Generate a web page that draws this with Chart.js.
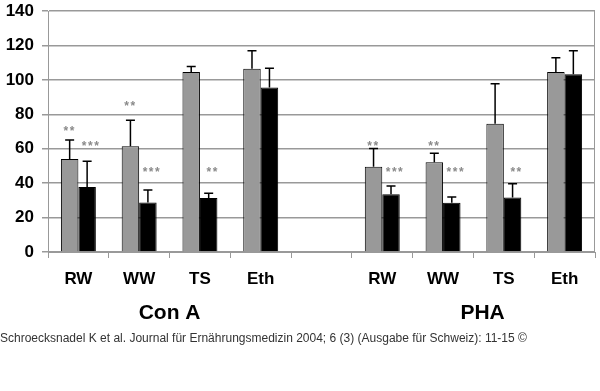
<!DOCTYPE html>
<html>
<head>
<meta charset="utf-8">
<script src="https://cdn.jsdelivr.net/npm/chart.js@4"></script>
<style>
  body { margin: 0; background: #fff; }
  #wrap { position: relative; width: 600px; height: 391px; }
  #caption {
    position: absolute; left: 0; top: 331px;
    font: 12px/14px "Liberation Sans", Arial, sans-serif; color: #333;
    white-space: nowrap;
  }
</style>
</head>
<body>
<div id="wrap">
  <canvas id="myChart" width="600" height="391"></canvas>
  <div id="caption">Schroecksnadel K et al. Journal für Ernährungsmedizin 2004; 6 (3) (Ausgabe für Schweiz): 11-15 ©</div>
</div>
<script>
// categories (index 4 is the empty gap between the two groups)
let labels = ['RW', 'WW', 'TS', 'Eth', '', 'RW', 'WW', 'TS', 'Eth']
// group names, centred on a category index
let groups = [{ name: 'Con A', at: 1.5 }, { name: 'PHA', at: 6.65 }]

// bar heights
let grayValues = [54, 61.5, 104.5, 106.4, null, 49.5, 52.2, 74.5, 104.6]
let blackValues = [37.8, 28.8, 31.4, 95.5, null, 33.6, 28.6, 31.7, 103.2]

// top of the (upper only) error bars
let grayErrTop = [65, 76.6, 107.7, 116.9, null, 60.1, 57.4, 97.8, 112.9]
let blackErrTop = [52.7, 36, 34.1, 106.8, null, 38.3, 31.9, 39.6, 116.9]

// significance marks: [category index, dataset index, text, y value]
let marks = [
    [0, 0, '**', 71.5], [0, 1, '***', 62.8],
    [1, 0, '**', 86], [1, 1, '***', 47.7],
    [2, 1, '**', 47.7],
    [5, 0, '**', 62.8], [5, 1, '***', 47.7],
    [6, 0, '**', 62.8], [6, 1, '***', 47.7],
    [7, 1, '**', 47.7]
]

const errTops = [grayErrTop, blackErrTop]

const extras = {
    id: 'extras',
    afterDatasetsDraw(chart) {
        const c = chart.ctx
        const y = chart.scales.y
        const x = chart.scales.x
        const area = chart.chartArea

        // error bars
        c.save()
        c.strokeStyle = '#000'
        c.lineWidth = 1.5
        chart.data.datasets.forEach((ds, di) => {
            const meta = chart.getDatasetMeta(di)
            meta.data.forEach((el, i) => {
                const top = errTops[di][i]
                if (top == null) return
                const yt = y.getPixelForValue(top)
                c.beginPath()
                c.moveTo(el.x, el.y)
                c.lineTo(el.x, yt)
                c.moveTo(el.x - 4.5, yt)
                c.lineTo(el.x + 4.5, yt)
                c.stroke()
            })
        })

        // asterisks
        c.fillStyle = '#8a8a8a'
        c.font = 'bold 12px "Liberation Sans", Arial, sans-serif'
        c.letterSpacing = '1.5px'
        c.textAlign = 'center'
        c.textBaseline = 'middle'
        marks.forEach(m => {
            const el = chart.getDatasetMeta(m[1]).data[m[0]]
            c.fillText(m[2], el.x + (m[1] == 1 ? 4 : 0), y.getPixelForValue(m[3]) + 3)
        })
        c.letterSpacing = '0px'

        // right border of the plot
        c.strokeStyle = '#999'
        c.lineWidth = 1
        c.beginPath()
        c.moveTo(area.right - 0.5, area.top)
        c.lineTo(area.right - 0.5, area.bottom)
        c.stroke()

        // group labels
        c.fillStyle = '#000'
        c.font = 'bold 21px "Liberation Sans", Arial, sans-serif'
        groups.forEach(g => {
            c.fillText(g.name, x.getPixelForValue(g.at), 313)
        })
        c.restore()
    }
}

let ctx = document.getElementById('myChart').getContext('2d')

let chart = new Chart(ctx, {
    type: 'bar',
    data: {
        labels: labels,
        datasets: [{
            data: grayValues,
            backgroundColor: '#999999',
            borderColor: '#000',
            borderWidth: 1,
        },
        {
            data: blackValues,
            backgroundColor: '#000',
            borderColor: '#000',
            borderWidth: 1,
        }]
    },
    plugins: [extras],
    options: {
        responsive: false,
        animation: false,
        layout: { padding: { top: 11, right: 5, left: 0 } },
        plugins: {
            legend: { display: false },
            tooltip: { enabled: false }
        },
        datasets: {
            bar: { categoryPercentage: 0.575, barPercentage: 1 }
        },
        scales: {
            x: {
                grid: {
                    offset: true,
                    drawOnChartArea: false,
                    color: '#999',
                    tickLength: 6,
                },
                border: { color: '#999' },
                ticks: {
                    color: '#000',
                    padding: 11,
                    maxRotation: 0,
                    font: { family: '"Liberation Sans", Arial', size: 17, weight: 'bold' }
                },
                afterFit: s => { s.height = 139 }
            },
            y: {
                min: 0,
                max: 140,
                ticks: {
                    stepSize: 20,
                    color: '#000',
                    padding: 8,
                    font: { family: '"Liberation Sans", Arial', size: 17, weight: 'bold' }
                },
                grid: { color: '#999', lineWidth: 1.5, tickLength: 6 },
                border: { color: '#999' },
                afterFit: s => {
                    s.width = 48
                    s.paddingTop = 0
                    s.paddingBottom = 0
                }
            }
        }
    }
});
</script>
</body>
</html>
